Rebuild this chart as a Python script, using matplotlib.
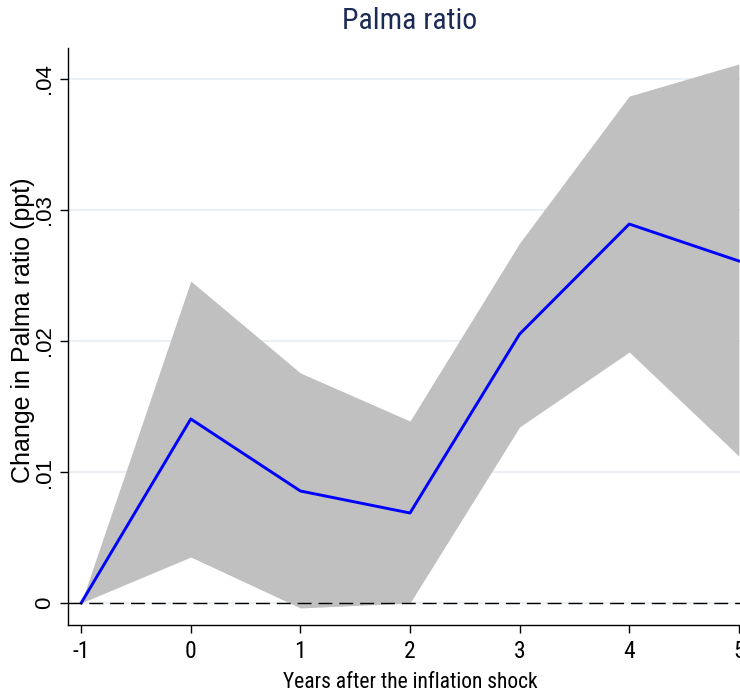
import matplotlib
matplotlib.use("Agg")
import matplotlib.pyplot as plt

years = [-1, 0, 1, 2, 3, 4, 5]
palma = [0.0, 0.01405, 0.00855, 0.00687, 0.02053, 0.02893, 0.02611]
upper = [0.0, 0.02458, 0.01756, 0.01389, 0.02748, 0.03870, 0.04115]
lower = [0.0, 0.00351, -0.00038, 0.0, 0.01344, 0.01916, 0.01122]
yticks = [0, 0.01, 0.02, 0.03, 0.04]
ytick_labels = ["0", ".01", ".02", ".03", ".04"]
xticks = [-1, 0, 1, 2, 3, 4, 5]

narrow = ["Roboto Condensed", "Liberation Sans", "DejaVu Sans"]
regular = ["Liberation Sans", "DejaVu Sans"]

fig = plt.figure(figsize=(7.4, 6.94), dpi=100)
ax = fig.add_axes([68/740, 69/694, (752-68)/740, (646-69)/694])

ax.fill_between(years, lower, upper, color="#c0c0c0", linewidth=0, zorder=2)
ax.plot(years, palma, color="#0000ff", lw=2.1, zorder=3)
ax.axhline(0, color="black", lw=1.0, ls=(0, (10, 5)), zorder=4)

for y in yticks:
    ax.axhline(y, color="#eaf0f3", lw=1.5, zorder=1)

ax.set_xlim(-1.12, 5.12)
ax.set_ylim(-0.00168, 0.04237)

ax.set_yticks(yticks)
ax.set_yticklabels(ytick_labels, rotation=90, va="center", fontfamily=regular, fontsize=16)
ax.set_xticks(xticks)
ax.set_xticklabels([str(x) for x in xticks], fontfamily=narrow, fontsize=17)
ax.tick_params(axis="both", length=6, width=1, color="black")
ax.tick_params(axis="x", pad=5)
ax.tick_params(axis="y", pad=3)

for s in ["top", "right"]:
    ax.spines[s].set_visible(False)
for s in ["left", "bottom"]:
    ax.spines[s].set_linewidth(1.0)

ax.set_ylabel("Change in Palma ratio (ppt)", fontfamily=regular, fontsize=18, va="center")
ax.yaxis.set_label_coords((23-68)/684, 0.51)
ax.set_xlabel("Years after the inflation shock", fontfamily=narrow, fontsize=15.5, va="center")
ax.xaxis.set_label_coords((410-68)/684, (694-682-69)/577)
fig.text(410/740, 1 - 21/694, "Palma ratio", ha="center", va="center",
         fontfamily=narrow, fontsize=21.5, color="#1c2b54")

fig.savefig("out.png", dpi=100)
